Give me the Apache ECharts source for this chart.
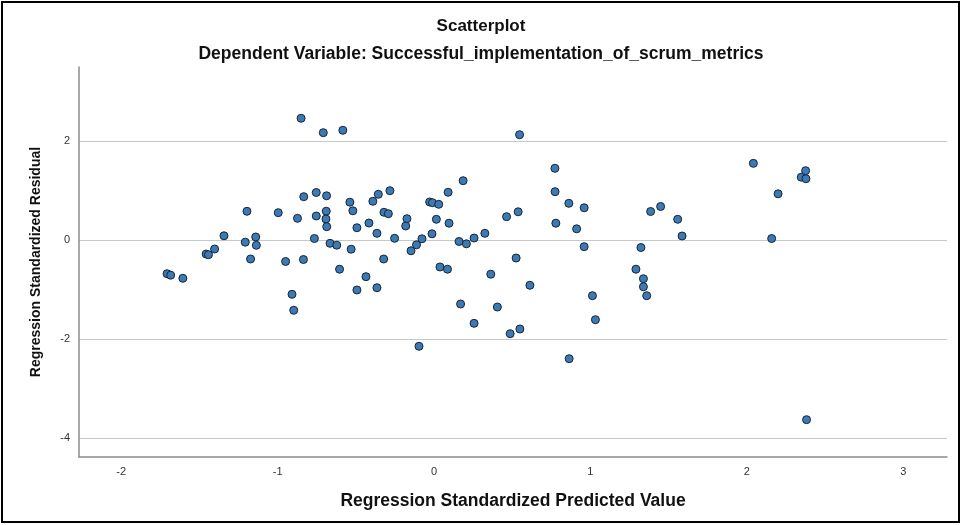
<!DOCTYPE html>
<html>
<head>
<meta charset="utf-8">
<script src="https://cdn.jsdelivr.net/npm/echarts@6/dist/echarts.min.js"></script>
<style>
html,body{margin:0;padding:0;background:#fff;}
#chart{width:962px;height:525px;}
</style>
</head>
<body>
<div id="chart"></div>
<script>
// ---- Data ----
const titleText = "Scatterplot";
const subtitleText = "Dependent Variable: Successful_implementation_of_scrum_metrics";
const xAxisTitle = "Regression Standardized Predicted Value";
const yAxisTitle = "Regression Standardized Residual";

const xTickLabels = [-2, -1, 0, 1, 2, 3];
const yTickLabels = [-4, -2, 0, 2];

const predicted = [
  -1.707, -1.684, -1.606, -1.457, -1.442, -1.403, -1.343, -1.196, -1.207, -1.140,
  -1.136, -1.173, -0.996, -0.949, -0.908, -0.897, -0.873, -0.850, -0.835, -0.833,
  -0.753, -0.753, -0.765, -0.708, -0.687, -0.689, -0.691, -0.686, -0.665, -0.622,
  -0.604, -0.583, -0.538, -0.519, -0.530, -0.493, -0.493, -0.435, -0.416, -0.391,
  -0.356, -0.365, -0.365, -0.322, -0.320, -0.292, -0.282, -0.252, -0.173, -0.181,
  -0.147, -0.112, -0.077, -0.096, -0.028, -0.010, 0.030, 0.015, -0.013, 0.038,
  0.086, 0.090, 0.096, 0.186, 0.160, 0.207, 0.256, 0.325, 0.170, 0.256,
  0.363, 0.405, 0.464, 0.538, 0.547, 0.525, 0.613, 0.487, 0.549, 0.773,
  0.774, 0.779, 0.862, 0.912, 0.960, 0.960, 0.864, 1.013, 1.032, 1.291,
  1.323, 1.339, 1.339, 1.360, 1.385, 1.449, 1.558, 1.586, 2.042, 2.159,
  2.200, 2.348, 2.376, 2.378, 2.382
];
const residual = [
  -0.681, -0.711, -0.774, -0.283, -0.297, -0.182, 0.085, 0.580, -0.044, 0.061,
  -0.107, -0.384, 0.552, -0.434, -1.097, -1.420, 0.438, 2.459, -0.394, 0.875,
  0.960, 0.485, 0.030, 2.168, 0.893, 0.582, 0.424, 0.269, -0.067, -0.105,
  -0.590, 2.216, 0.764, 0.590, -0.186, 0.248, -1.010, -0.741, 0.343, 0.782,
  0.923, 0.135, -0.964, -0.384, 0.560, 0.531, 0.996, 0.034, 0.430, 0.283,
  -0.218, -0.097, 0.024, -2.147, 0.768, 0.754, 0.721, 0.418, 0.125, -0.545,
  -0.590, 0.964, 0.339, 1.198, -0.030, -0.077, 0.040, 0.135, -1.293, -1.683,
  -0.691, -1.354, 0.471, 0.570, 2.127, -0.364, -0.915, -1.893, -1.798, 1.448,
  0.976, 0.339, 0.741, 0.226, 0.651, -0.135, -2.398, -1.125, -1.610, -0.590,
  -0.152, -0.782, -0.945, -1.125, 0.576, 0.677, 0.418, 0.081, 1.549, 0.030,
  0.933, 1.269, 1.400, 1.238, -3.630
];

// ---- Chart ----
const points = predicted.map((x, i) => [x, residual[i]]);
const isTick = (list) => (v) => list.some(t => Math.abs(t - v) < 1e-6);

const chart = echarts.init(document.getElementById('chart'), null, {renderer: 'canvas'});
const fontFam = '"Liberation Sans", Arial, sans-serif';

chart.setOption({
  backgroundColor: '#ffffff',
  animation: false,
  title: [
    {text: titleText, left: 'center', top: 13,
     textStyle: {fontFamily: fontFam, fontSize: 17, fontWeight: 'bold', color: '#111'}},
    {text: subtitleText, left: 'center', top: 40,
     textStyle: {fontFamily: fontFam, fontSize: 17.5, fontWeight: 'bold', color: '#111'}}
  ],
  graphic: [
    {type: 'rect', shape: {x: 2, y: 2, width: 957, height: 520},
     style: {fill: null, stroke: '#000', lineWidth: 2}, silent: true}
  ],
  grid: {left: 79, right: 15, top: 67, bottom: 68, containLabel: false},
  xAxis: {
    type: 'value', min: -2.27, max: 3.28, minInterval: 1, maxInterval: 1,
    name: xAxisTitle, nameLocation: 'middle', nameGap: 35,
    nameTextStyle: {fontFamily: fontFam, fontSize: 17.5, fontWeight: 'bold', color: '#111'},
    axisLine: {show: true, onZero: false, lineStyle: {color: '#8c8c8c', width: 1.5}},
    axisTick: {show: false},
    splitLine: {show: false},
    axisLabel: {
      show: true, margin: 9, showMinLabel: false, showMaxLabel: false,
      fontFamily: fontFam, fontSize: 11, color: '#333',
      formatter: (v) => isTick(xTickLabels)(v) ? String(Math.round(v)) : ''
    }
  },
  yAxis: {
    type: 'value', min: -4.384, max: 3.495, minInterval: 2, maxInterval: 2,
    name: yAxisTitle, nameLocation: 'middle', nameGap: 36, nameRotate: 90,
    nameTextStyle: {fontFamily: fontFam, fontSize: 14, fontWeight: 'bold', color: '#111'},
    axisLine: {show: true, onZero: false, lineStyle: {color: '#8c8c8c', width: 1.5}},
    axisTick: {show: false},
    splitLine: {show: true, showMinLine: false, showMaxLine: false,
      lineStyle: {color: '#c8c8c8', width: 1}},
    axisLabel: {
      show: true, margin: 9, showMinLabel: false, showMaxLabel: false,
      fontFamily: fontFam, fontSize: 11, color: '#333',
      formatter: (v) => isTick(yTickLabels)(v) ? String(Math.round(v)) : ''
    }
  },
  series: [{
    type: 'scatter',
    data: points,
    symbol: 'circle',
    symbolSize: 8,
    itemStyle: {color: '#3d7ab3', borderColor: '#13263b', borderWidth: 1, opacity: 1}
  }]
});
</script>
</body>
</html>
